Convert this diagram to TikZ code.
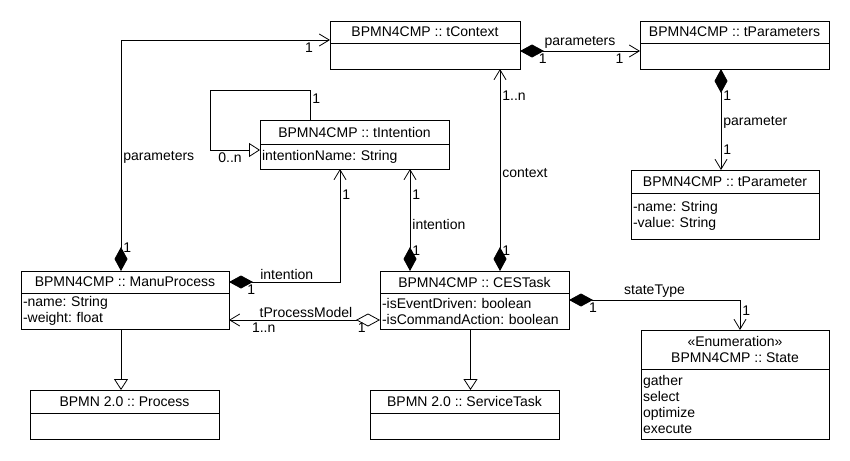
\documentclass[tikz,border=0pt]{standalone}
\usepackage{fontspec}
\setmainfont{Liberation Sans}
\frenchspacing
\usetikzlibrary{arrows.meta,positioning}

\tikzset{
  cls/.style={draw, line width=0.8pt, inner sep=0pt, outer sep=0pt, align=center, anchor=north west},
  attrs/.style={draw, line width=0.8pt, inner xsep=2pt, inner ysep=0pt, outer sep=0pt, align=left, below=0pt of #1},
  lbl/.style={inner sep=2pt},
  comp/.style={line width=0.8pt, {Diamond[length=24pt,width=13pt]}-{Straight Barb[length=10pt,width=12pt]}},
  aggr/.style={line width=0.8pt, {Diamond[length=24pt,width=13pt,fill=white]}-{Straight Barb[length=10pt,width=12pt]}},
  gen/.style={line width=0.8pt, -{Triangle[length=11pt,width=14pt,fill=white]}},
}

\begin{document}
\begin{tikzpicture}[x=1pt, y=-1pt, font=\fontsize{14}{16}\selectfont]
    \useasboundingbox (0,0) rectangle (850,460);

    % 类
    \node[cls, minimum width=190pt, minimum height=22pt] (ctx) at (330,21) {BPMN4CMP :: tContext};
    \node[attrs=ctx, text width=186pt, minimum height=26pt] (ctxb) {};

    \node[cls, minimum width=189pt, minimum height=22pt] (par) at (640,21) {BPMN4CMP :: tParameters};
    \node[attrs=par, text width=185pt, minimum height=26pt] (parb) {};

    \node[cls, minimum width=189pt, minimum height=24pt] (int) at (260,120) {BPMN4CMP :: tIntention};
    \node[attrs=int, text width=185pt, minimum height=25pt] (intb) {intentionName: String};

    \node[cls, minimum width=188pt, minimum height=23pt] (prm) at (631,170) {BPMN4CMP :: tParameter};
    \node[attrs=prm, text width=184pt, minimum height=46pt] (prmb) {-name: String\\-value: String};

    \node[cls, minimum width=208pt, minimum height=22pt] (manu) at (21,271) {BPMN4CMP :: ManuProcess};
    \node[attrs=manu, text width=204pt, minimum height=36pt] (manub) {-name: String\\-weight: float};

    \node[cls, minimum width=189pt, minimum height=22pt] (ces) at (380,271) {BPMN4CMP :: CESTask};
    \node[attrs=ces, text width=185pt, minimum height=36pt] (cesb) {-isEventDriven: boolean\\-isCommandAction: boolean};

    \node[cls, minimum width=189pt, minimum height=23pt] (proc) at (30,390) {BPMN 2.0 :: Process};
    \node[attrs=proc, text width=185pt, minimum height=26pt] (procb) {};

    \node[cls, minimum width=189pt, minimum height=23pt] (svc) at (370,390) {BPMN 2.0 :: ServiceTask};
    \node[attrs=svc, text width=185pt, minimum height=26pt] (svcb) {};

    \node[cls, minimum width=188pt, minimum height=39pt] (state) at (641,330) {«Enumeration»\\BPMN4CMP :: State};
    \node[attrs=state, text width=184pt, minimum height=70pt] (stateb) {gather\\select\\optimize\\execute};

    % 辅助点
    \coordinate (loop) at (210,90);
    \coordinate (ci) at ([xshift=-64.5pt]ces.north);
    \coordinate (cc) at ([xshift=25.5pt]ces.north);
    \coordinate (pp) at ([xshift=-13.5pt]parb.south);
    \coordinate (mp) at ([xshift=-4pt]manub.south);
    \coordinate (cs) at ([xshift=-4pt]cesb.south);

    % 组合关系
    \draw[comp] ([xshift=-4pt]manu.north) |- ([yshift=-8pt]ctx.west)
        node[lbl, pos=0.245, right] {parameters}
        node[lbl, pos=0.05, right] {1}
        node[lbl, pos=0.95, below] {1};
    \draw[comp] (manu.east) -| ([xshift=-14.5pt]intb.south)
        node[lbl, pos=0.26, above] {intention}
        node[lbl, pos=0.1, below] {1}
        node[lbl, pos=0.885, right] {1};
    \draw[comp] (ci) -- (ci |- intb.south)
        node[lbl, pos=0.2, right] {1}
        node[lbl, pos=0.46, right] {intention}
        node[lbl, pos=0.745, right] {1};
    \draw[comp] (cc) -- (cc |- ctxb.south)
        node[lbl, pos=0.1, right] {1}
        node[lbl, pos=0.485, right] {context}
        node[lbl, pos=0.87, right] {1..n};
    \draw[comp] ([yshift=-8pt]ctx.south east) -- ([yshift=-8pt]par.south west)
        node[lbl, pos=0.5, above] {parameters}
        node[lbl, pos=0.19, below] {1}
        node[lbl, pos=0.83, below] {1};
    \draw[comp] (pp) -- (pp |- prm.north)
        node[lbl, pos=0.26, right] {1}
        node[lbl, pos=0.53, right] {parameter}
        node[lbl, pos=0.8, right] {1};
    \draw[comp] ([yshift=-7pt]ces.south east) -| ([xshift=5pt]state.north)
        node[lbl, pos=0.25, above] {stateType}
        node[lbl, pos=0.07, below] {1}
        node[lbl, pos=0.67, right] {1};

    % 聚合关系
    \draw[aggr] ([yshift=-9pt]cesb.west) -- ([yshift=-9pt]manub.east)
        node[lbl, pos=0.49, above] {tProcessModel}
        node[lbl, pos=0.12, below] {1}
        node[lbl, pos=0.77, below] {1..n};

    % 泛化关系
    \draw[gen] ([xshift=-44.5pt]int.north) |- (loop)
        node[lbl, pos=0.35, right] {1}
        |- ([yshift=-6pt]int.south west)
        node[lbl, pos=0.7, below] {0..n};
    \draw[gen] (mp) -- (mp |- proc.north);
    \draw[gen] (cs) -- (cs |- svc.north);
\end{tikzpicture}
\end{document}
